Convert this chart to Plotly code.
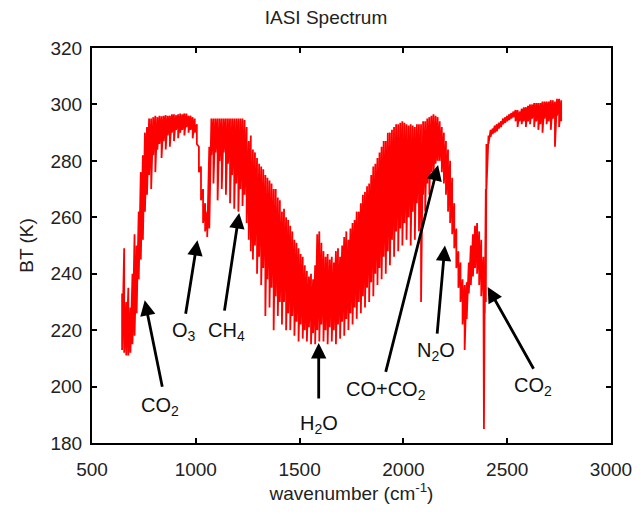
import plotly.graph_objects as go

# IASI brightness temperature spectrum, read off the picture as upper / lower envelope
# sampled every 10 cm-1 (plus a few extra points around the 2388 cm-1 CO2 spike)
wavenumber = (
    list(range(645, 2386, 10))
    + [2388, 2392, 2397, 2400]
    + list(range(2410, 2761, 10))
)

bt_high = [
    # 645 - 1055
    233, 249, 230, 235, 228, 240, 254, 250, 262, 276,
    282, 290, 292, 295, 295, 295.5, 296, 295.5, 296, 295.8,
    296, 296.2, 296, 296, 296.5, 296.5, 296.2, 296.5, 296.8, 296.5,
    296.8, 296.8, 296, 296, 295.5, 295, 293, 285, 278, 270,
    265, 262,
    # 1065 - 2385
    285, 295, 295, 295, 295, 295, 295, 295, 295, 295,
    295, 295, 295, 295, 295, 295, 295, 294.5, 292, 287,
    289, 284, 283, 281, 279, 278, 277, 275, 274, 273,
    272, 270, 270, 267, 266, 262, 263, 260, 259, 257,
    255, 252, 251, 249, 247, 246, 243, 241, 239, 240,
    238, 243, 254, 255, 251, 248, 246, 247, 245, 246,
    244, 248, 249, 246, 250, 253, 255, 252, 256, 258,
    259, 262, 262, 265, 268, 269, 271, 272, 275, 278,
    279, 281, 283, 285, 287, 287, 290, 290, 291, 292,
    293, 293, 293.5, 294, 293.5, 293, 292.5, 293, 292.5, 292,
    293, 293, 293, 294, 294, 295, 295.5, 296, 296.5, 296,
    295.5, 294, 292, 290, 287, 284, 280, 274, 265, 256,
    248, 244, 238, 236, 237, 244, 250, 254, 257, 258,
    255, 252, 246,
    # 2388 - 2400
    240, 242, 270, 286,
    # 2410 - 2760
    289, 291, 291.5, 292.5, 293, 293.5, 294, 295, 295.5, 296,
    296.5, 297, 297.5, 298, 298, 297.5, 298.5, 299, 299, 299.5,
    300, 300, 300.5, 300.5, 300.5, 300.5, 301, 301, 301, 301,
    301.5, 301.5, 301, 302, 302, 301.5,
]

bt_low = [
    # 645 - 1055
    213, 212, 211, 211, 212, 215, 218, 226, 238, 245,
    252, 262, 268, 275, 270, 282, 276, 284, 286, 281,
    287, 284, 289, 285, 290, 287, 291, 288, 290, 291,
    289, 292, 290, 291, 288, 290, 286, 276, 266, 258,
    255, 253,
    # 1065 - 2385
    256, 282, 272, 283, 266, 280, 270, 283, 268, 279,
    265, 275, 263, 272, 262, 270, 264, 268, 258, 252,
    248, 245, 250, 240, 246, 236, 242, 225, 238, 228,
    235, 220, 232, 225, 230, 222, 230, 220, 226, 220,
    225, 218, 223, 216, 222, 217, 220, 216, 221, 215,
    219, 215, 220, 216, 222, 216, 220, 215, 221, 216,
    220, 215, 222, 217, 223, 218, 224, 220, 226, 222,
    228, 224, 230, 226, 232, 228, 235, 230, 237, 232,
    240, 236, 242, 238, 246, 240, 248, 243, 252, 246,
    255, 248, 256, 250, 258, 252, 260, 250, 262, 252,
    265, 255, 230, 268, 262, 272, 268, 276, 275, 279,
    280, 280, 276, 272, 268, 262, 258, 254, 249, 242,
    235, 230, 222, 213, 224, 233, 236, 239, 242, 240,
    236, 232, 222,
    # 2388 - 2400
    185, 226, 230, 270,
    # 2410 - 2760
    286, 288.5, 289.5, 290, 290.5, 291.5, 292, 293, 293.5, 294,
    294.5, 295, 295.5, 294, 292, 294, 293, 294, 292, 294,
    293, 295, 292, 294, 291, 293, 290, 295, 293, 294,
    291, 295, 285, 296, 292, 294,
]

# gas labels: text, arrow tip (x, y), arrow tail (x, y), label position (x, y)
gas_labels = ["CO<sub>2</sub>", "O<sub>3</sub>", "CH<sub>4</sub>", "H<sub>2</sub>O",
              "CO+CO<sub>2</sub>", "N<sub>2</sub>O", "CO<sub>2</sub>"]
tip_x = [754, 1008, 1209, 1592, 2167, 2200, 2406]
tip_y = [230.6, 251.9, 261.5, 215.4, 278.5, 250.0, 235.3]
tail_x = [840, 950, 1137, 1592, 1913, 2162, 2631]
tail_y = [199.4, 225.3, 226.4, 195.2, 204.7, 218.2, 205.8]
label_x = [826, 941, 1147, 1592, 1918, 2157, 2622]
label_y = [193.0, 219.5, 219.5, 186.5, 198.5, 212.5, 200.0]

# zigzag between the two envelopes so the dense line spectrum looks filled
spec_x = []
spec_y = []
for w, hi, lo in zip(wavenumber, bt_high, bt_low):
    spec_x.extend([w, w])
    spec_y.extend([hi, lo])

fig = go.Figure()
fig.add_trace(go.Scatter(
    x=spec_x, y=spec_y,
    mode="lines",
    line=dict(color="#ff0000", width=1.8),
    hoverinfo="skip",
    showlegend=False,
))

annotations = []
for i in range(len(gas_labels)):
    annotations.append(dict(
        x=tip_x[i], y=tip_y[i], ax=tail_x[i], ay=tail_y[i],
        xref="x", yref="y", axref="x", ayref="y",
        text="", showarrow=True,
        arrowhead=2, arrowsize=1.1, arrowwidth=2.8, arrowcolor="black",
    ))
    annotations.append(dict(
        x=label_x[i], y=label_y[i], xref="x", yref="y",
        text=gas_labels[i], showarrow=False,
        font=dict(size=20, color="#111"),
    ))

axis_common = dict(
    showgrid=False, zeroline=False,
    showline=True, linecolor="black", linewidth=2, mirror="ticks",
    ticks="inside", ticklen=5, tickwidth=2, tickcolor="black",
    tickfont=dict(size=19, color="#222"),
)

# page is drawn with an 8 px body offset, so the figure is a bit smaller than the window
fig.update_layout(
    width=636, height=507,
    margin=dict(l=84, r=30, t=40, b=72),
    paper_bgcolor="white", plot_bgcolor="white",
    font=dict(family="Liberation Sans, Arial, sans-serif", color="#222"),
    title=dict(text="IASI Spectrum", x=0.5, xanchor="center", y=0.982, yanchor="middle",
               font=dict(size=19, color="#222")),
    xaxis=dict(range=[500, 3000], dtick=500, tick0=500, ticklabelstandoff=8,
               title=dict(text="wavenumber (cm<sup>-1</sup>)", font=dict(size=19), standoff=6),
               **axis_common),
    yaxis=dict(range=[180, 320], dtick=20, tick0=180, ticklabelstandoff=4,
               title=dict(text="BT (K)", font=dict(size=19), standoff=12),
               **axis_common),
    annotations=annotations,
)

fig.write_html("out.html")
